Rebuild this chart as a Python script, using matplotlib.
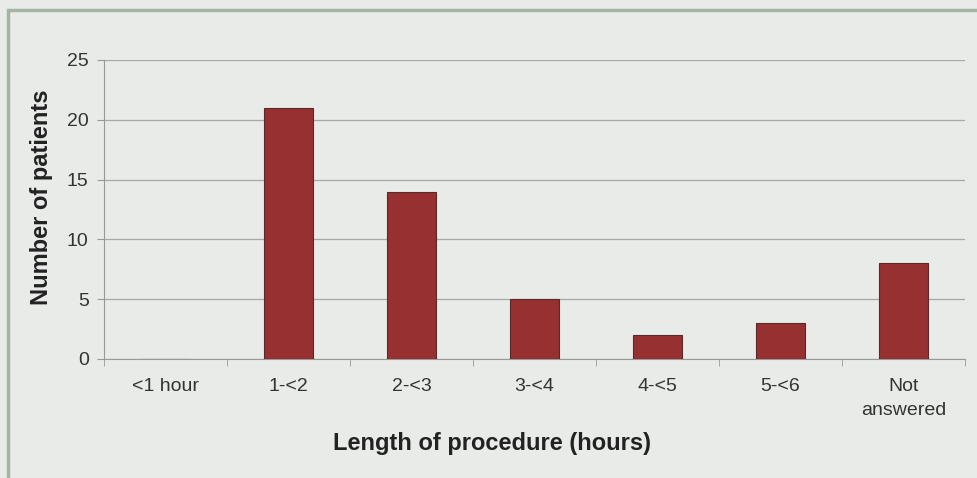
import matplotlib.pyplot as plt
from matplotlib.patches import Rectangle
import numpy as np

plt.rcParams['font.family'] = ['Liberation Sans', 'DejaVu Sans']

categories = ['<1 hour', '1-<2', '2-<3', '3-<4', '4-<5', '5-<6', 'Not\nanswered']
patients = [0, 21, 14, 5, 2, 3, 8]

bg = '#e9ebe9'
fig = plt.figure(figsize=(9.78, 4.78), dpi=100, facecolor=bg)
ax = fig.add_axes([0.1063, 0.249, 0.8804, 0.6255], facecolor=bg)

# 外框
fig.patches.append(Rectangle((8 / 978, -0.05), 1.1, 1 - 10 / 478 + 0.05,
                             transform=fig.transFigure, fill=False,
                             edgecolor='#a3b5a3', linewidth=2.5))

x = np.arange(len(categories))
ax.bar(x, patients, width=0.4, color='#973030', edgecolor='#5a2a2a', linewidth=0.8, zorder=3)

ax.set_xlim(-0.5, len(categories) - 0.5)
ax.set_ylim(0, 25)
ax.set_yticks(range(0, 26, 5))
ax.grid(axis='y', color='#a8a8a8', linewidth=0.9, zorder=0)

ax.set_xticks(x)
ax.set_xticklabels(categories, fontsize=14, color='#333333', linespacing=1.5)
ax.set_xticks(np.arange(-0.5, len(categories), 1), minor=True)
ax.tick_params(axis='x', which='major', length=0, pad=14)
ax.tick_params(axis='x', which='minor', length=5, color='#999999', direction='out')
ax.tick_params(axis='y', labelsize=14, labelcolor='#333333', color='#999999', length=5, pad=6)

for side in ['top', 'right']:
    ax.spines[side].set_visible(False)
for side in ['left', 'bottom']:
    ax.spines[side].set_color('#999999')

ax.set_ylabel('Number of patients', fontsize=17, fontweight='bold', color='#222222')
ax.set_xlabel('Length of procedure (hours)', fontsize=17, fontweight='bold', color='#222222')
ax.xaxis.set_label_coords(0.4506, -0.245)
ax.yaxis.set_label_coords(-0.059, 0.542)

plt.savefig('out.png', dpi=100, facecolor=bg)
